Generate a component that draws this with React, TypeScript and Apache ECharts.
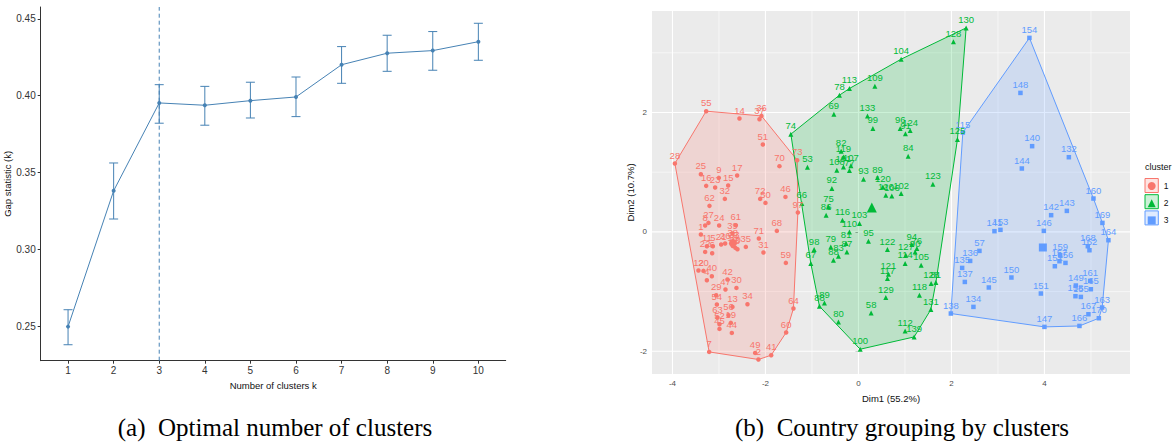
import React, { useEffect, useRef } from "react";
import * as echarts from "echarts";

// ---------- Panel (a): gap statistic ----------
const clusterK = [1, 2, 3, 4, 5, 6, 7, 8, 9, 10];
const gapValues = [0.2496, 0.3381, 0.3953, 0.3938, 0.3968, 0.3992, 0.4202, 0.4277, 0.4294, 0.4352];
const gapLower = [0.2378, 0.3197, 0.3821, 0.3808, 0.3855, 0.3864, 0.4081, 0.4159, 0.4166, 0.4231];
const gapUpper = [0.2606, 0.3562, 0.4072, 0.4061, 0.4088, 0.4122, 0.432, 0.4394, 0.4418, 0.4472];
const optimalK = 3;
const gapYTicks = [0.25, 0.3, 0.35, 0.4, 0.45];

// ---------- Panel (b): cluster plot (Dim1, Dim2, label) ----------
const cluster1: [number, number, string][] = [
  [-3.275, 2.022, "55"], [-2.559, 1.899, "14"], [-2.086, 1.943, "36"], [-2.129, 1.888, "37"],
  [-2.056, 1.464, "51"], [-3.948, 1.146, "28"], [-1.699, 1.101, "70"], [-1.318, 1.201, "73"],
  [-3.389, 0.966, "25"], [-3.002, 0.905, "9"], [-2.609, 0.945, "17"], [-3.275, 0.771, "16"],
  [-3.082, 0.744, "23"], [-2.802, 0.777, "15"], [-2.873, 0.553, "32"], [-2.114, 0.553, "72"],
  [-2.0, 0.486, "50"], [-1.57, 0.586, "46"], [-1.303, 0.325, "97"], [-3.204, 0.436, "62"],
  [-3.226, 0.151, "27"], [-3.297, 0.107, "8"], [-2.996, 0.107, "24"], [-2.637, 0.112, "61"],
  [-3.389, -0.044, "1"], [-2.71, -0.027, "39"], [-1.755, 0.017, "68"], [-2.142, -0.111, "71"],
  [-3.26, -0.24, "11"], [-3.131, -0.24, "5"], [-3.297, -0.335, "22"], [-3.146, -0.357, "6"],
  [-2.953, -0.211, "21"], [-2.867, -0.194, "26"], [-2.701, -0.156, "38"], [-2.673, -0.178, "33"],
  [-2.701, -0.235, "18"], [-2.645, -0.268, "10"], [-2.602, -0.29, "3"], [-2.422, -0.251, "35"],
  [-2.043, -0.345, "31"], [-1.561, -0.519, "59"], [-3.441, -0.647, "12"], [-3.333, -0.653, "20"],
  [-3.26, -0.809, "4"], [-3.153, -0.742, "40"], [-2.817, -0.797, "42"], [-2.86, -0.965, "47"],
  [-2.624, -0.938, "30"], [-3.06, -1.06, "29"], [-3.045, -1.216, "54"], [-2.71, -1.256, "13"],
  [-2.387, -1.211, "34"], [-3.032, -1.434, "63"], [-2.796, -1.395, "56"], [-2.744, -1.524, "19"],
  [-2.989, -1.546, "52"], [-2.989, -1.625, "45"], [-2.723, -1.692, "44"], [-1.398, -1.283, "64"],
  [-1.555, -1.685, "60"], [-3.211, -2.01, "7"], [-2.222, -2.027, "49"], [-2.151, -2.137, "2"],
  [-1.877, -2.065, "41"],
];
const cluster2: [number, number, string][] = [
  [2.316, 3.417, "130"], [2.043, 3.183, "128"], [0.918, 2.893, "104"], [-0.194, 2.402, "113"],
  [0.353, 2.441, "109"], [-0.409, 2.29, "78"], [-0.529, 1.972, "69"], [0.194, 1.943, "133"],
  [0.31, 1.732, "99"], [0.897, 1.732, "96"], [1.011, 1.642, "91"], [1.112, 1.698, "124"],
  [-1.454, 1.637, "74"], [2.129, 1.548, "125"], [1.069, 1.268, "84"], [-0.372, 1.352, "82"],
  [-0.323, 1.256, "119"], [-1.097, 1.084, "53"], [-0.465, 1.034, "108"], [-0.323, 1.089, "101"],
  [-0.163, 1.106, "107"], [-0.194, 1.028, "77"], [0.108, 0.883, "93"], [0.409, 0.911, "89"],
  [0.525, 0.754, "120"], [1.6, 0.799, "123"], [-0.572, 0.727, "92"], [0.589, 0.615, "126"],
  [0.718, 0.603, "106"], [0.918, 0.643, "102"], [-1.217, 0.476, "66"], [-0.645, 0.419, "75"],
  [-0.695, 0.28, "86"], [-0.344, 0.196, "116"], [0.022, 0.141, "103"], [-0.194, 0.0, "110"],
  [-0.265, -0.194, "81"], [0.215, -0.156, "95"], [-0.953, -0.295, "98"], [-0.594, -0.251, "79"],
  [-0.43, -0.407, "83"], [-0.249, -0.335, "87"], [-0.538, -0.474, "88"], [-1.024, -0.529, "67"],
  [0.624, -0.295, "122"], [1.148, -0.211, "94"], [1.256, -0.278, "76"], [1.219, -0.335, "90"],
  [1.019, -0.39, "127"], [1.004, -0.529, "114"], [1.348, -0.558, "105"], [0.645, -0.709, "121"],
  [0.624, -0.781, "117"], [1.563, -0.864, "128"], [1.665, -0.848, "81"], [1.312, -1.06, "118"],
  [0.589, -1.099, "129"], [1.557, -1.3, "131"], [-0.839, -1.245, "88"], [-0.731, -1.189, "89"],
  [-0.43, -1.508, "80"], [0.273, -1.357, "58"], [1.004, -1.658, "112"], [1.198, -1.759, "139"],
  [0.037, -1.965, "100"],
];
const cluster3: [number, number, string][] = [
  [3.677, 3.25, "154"], [3.484, 2.328, "148"], [2.245, 1.665, "115"], [3.735, 1.436, "140"],
  [4.525, 1.251, "132"], [3.514, 1.062, "144"], [5.054, 0.559, "160"], [4.144, 0.28, "142"],
  [4.482, 0.352, "143"], [5.247, 0.151, "169"], [5.376, -0.139, "164"], [2.925, 0.012, "141"],
  [3.054, 0.034, "153"], [3.987, 0.017, "146"], [4.933, -0.24, "168"], [4.968, -0.307, "162"],
  [4.338, -0.39, "159"], [4.323, -0.491, "157"], [4.452, -0.519, "156"], [4.224, -0.575, "152"],
  [2.602, -0.318, "57"], [2.402, -0.486, "136"], [2.23, -0.603, "135"], [2.288, -0.838, "137"],
  [3.29, -0.764, "150"], [2.804, -0.931, "145"], [3.923, -1.032, "151"], [4.675, -0.898, "149"],
  [4.983, -0.821, "161"], [4.998, -0.96, "165"], [4.667, -1.077, "158"], [4.783, -1.089, "155"],
  [2.473, -1.256, "134"], [1.987, -1.367, "138"], [5.241, -1.266, "163"], [4.946, -1.379, "167"],
  [5.17, -1.446, "170"], [4.753, -1.575, "166"], [4.0, -1.591, "147"],
];
const clusterNames = ["1", "2", "3"];
const clusterCenters: [number, number][] = [[-2.7, -0.19], [0.288, 0.392], [3.966, -0.261]];
const dimXTicks = [-4, -2, 0, 2, 4];
const dimYTicks = [-2, 0, 2];
const dimXMinorGrid = [-3, -1, 1, 3, 5];
const dimYMinorGrid = [-1, 1, 3];
const DIM_X = [-4.44, 5.84];
const DIM_Y = [-2.38, 3.7];

const SANS = "'Liberation Sans', Arial, sans-serif";
const SERIF = "'Liberation Serif', 'Times New Roman', serif";
const STEEL = "#4682B4";
const COLORS = ["#F8766D", "#00BA38", "#619CFF"];
const SYMBOLS = ["circle", "triangle", "rect"];

function rgba(hex: string, a: number) {
  const r = parseInt(hex.slice(1, 3), 16);
  const g = parseInt(hex.slice(3, 5), 16);
  const b = parseInt(hex.slice(5, 7), 16);
  return `rgba(${r},${g},${b},${a})`;
}

function convexHull(pts: number[][]): number[][] {
  const p = pts.map((q) => [q[0], q[1]]).sort((a, b) => a[0] - b[0] || a[1] - b[1]);
  const cross = (o: number[], a: number[], b: number[]) =>
    (a[0] - o[0]) * (b[1] - o[1]) - (a[1] - o[1]) * (b[0] - o[0]);
  const lower: number[][] = [];
  for (const q of p) {
    while (lower.length >= 2 && cross(lower[lower.length - 2], lower[lower.length - 1], q) <= 0) lower.pop();
    lower.push(q);
  }
  const upper: number[][] = [];
  for (let i = p.length - 1; i >= 0; i--) {
    const q = p[i];
    while (upper.length >= 2 && cross(upper[upper.length - 2], upper[upper.length - 1], q) <= 0) upper.pop();
    upper.push(q);
  }
  upper.pop();
  lower.pop();
  return lower.concat(upper);
}

export default function App() {
  const ref = useRef<HTMLDivElement>(null);
  useEffect(() => {
    if (!ref.current) return;
    const chart = echarts.init(ref.current, null, { renderer: "svg" });
    const clusters = [cluster1, cluster2, cluster3];

    const hullSeries = clusters.map((pts, ci) => {
      const h = convexHull(pts);
      return {
        type: "custom",
        xAxisIndex: 1,
        yAxisIndex: 1,
        silent: true,
        z: 2 + ci * 0.1,
        data: [[h[0][0], h[0][1]]],
        renderItem: (_p: any, api: any) => ({
          type: "polygon",
          shape: { points: h.map((q) => api.coord(q)) },
          style: { fill: rgba(COLORS[ci], 0.2), stroke: COLORS[ci], lineWidth: 1 },
        }),
      };
    });

    const scatterSeries = clusters.map((pts, ci) => ({
      type: "scatter",
      name: clusterNames[ci],
      xAxisIndex: 1,
      yAxisIndex: 1,
      z: 3,
      symbol: SYMBOLS[ci],
      symbolSize: ci === 1 ? 5 : 4.5,
      itemStyle: { color: COLORS[ci], opacity: 1 },
      data: pts.map((p) => [p[0], p[1], p[2]]),
      label: {
        show: true,
        position: "top",
        distance: 1,
        formatter: (p: any) => p.data[2],
        color: COLORS[ci],
        fontSize: 9.5,
        fontFamily: SANS,
      },
      emphasis: { disabled: true },
    }));

    const centerSeries = {
      type: "custom",
      xAxisIndex: 1,
      yAxisIndex: 1,
      z: 4,
      silent: true,
      data: clusterCenters.map((c, i) => [c[0], c[1], i]),
      renderItem: (_p: any, api: any) => {
        const pt = api.coord([api.value(0), api.value(1)]);
        const i = api.value(2);
        const s = 5;
        if (i === 0) return { type: "circle", shape: { cx: pt[0], cy: pt[1], r: 4 }, style: { fill: COLORS[0] } };
        if (i === 1)
          return {
            type: "polygon",
            shape: { points: [[pt[0], pt[1] - s - 1], [pt[0] - s, pt[1] + s - 1], [pt[0] + s, pt[1] + s - 1]] },
            style: { fill: COLORS[1] },
          };
        return { type: "rect", shape: { x: pt[0] - 4, y: pt[1] - 4, width: 8, height: 8 }, style: { fill: COLORS[2] } };
      },
    };

    const xGridSeries = {
      type: "custom",
      xAxisIndex: 1,
      yAxisIndex: 1,
      z: 1,
      silent: true,
      data: [...dimXTicks.map((v) => [v, 1]), ...dimXMinorGrid.map((v) => [v, 0])],
      renderItem: (_p: any, api: any) => {
        const v = api.value(0);
        const major = api.value(1) === 1;
        const a = api.coord([v, DIM_Y[0]]);
        const b = api.coord([v, DIM_Y[1]]);
        return {
          type: "line",
          shape: { x1: a[0], y1: a[1], x2: b[0], y2: b[1] },
          style: { stroke: "#ffffff", lineWidth: major ? 1.1 : 0.55 },
        };
      },
    };
    const yGridSeries = {
      type: "custom",
      xAxisIndex: 1,
      yAxisIndex: 1,
      z: 1,
      silent: true,
      data: [...dimYTicks.map((v) => [0, v, 1]), ...dimYMinorGrid.map((v) => [0, v, 0])],
      renderItem: (_p: any, api: any) => {
        const v = api.value(1);
        const major = api.value(2) === 1;
        const a = api.coord([DIM_X[0], v]);
        const b = api.coord([DIM_X[1], v]);
        return {
          type: "line",
          shape: { x1: a[0], y1: a[1], x2: b[0], y2: b[1] },
          style: { stroke: "#ffffff", lineWidth: major ? 1.1 : 0.55 },
        };
      },
    };

    const errorBarSeries = {
      type: "custom",
      xAxisIndex: 0,
      yAxisIndex: 0,
      z: 2,
      silent: true,
      data: clusterK.map((k, i) => [k, gapLower[i], gapUpper[i]]),
      renderItem: (_p: any, api: any) => {
        const x = api.value(0);
        const lo = api.coord([x, api.value(1)]);
        const hi = api.coord([x, api.value(2)]);
        const hw = 4.5;
        const st = { stroke: STEEL, lineWidth: 1 };
        return {
          type: "group",
          children: [
            { type: "line", shape: { x1: lo[0], y1: lo[1], x2: hi[0], y2: hi[1] }, style: st },
            { type: "line", shape: { x1: lo[0] - hw, y1: lo[1], x2: lo[0] + hw, y2: lo[1] }, style: st },
            { type: "line", shape: { x1: hi[0] - hw, y1: hi[1], x2: hi[0] + hw, y2: hi[1] }, style: st },
          ],
        };
      },
    };

    // dashed vertical marker at the optimal k, drawn through the axis scales
    const optimalLineSeries = {
      type: "custom",
      xAxisIndex: 0,
      yAxisIndex: 0,
      z: 1,
      silent: true,
      data: [[optimalK, 0.2274, 0.4578]],
      renderItem: (_p: any, api: any) => {
        const a = api.coord([api.value(0), api.value(1)]);
        const b = api.coord([api.value(0), api.value(2)]);
        return {
          type: "line",
          shape: { x1: a[0], y1: a[1], x2: b[0], y2: b[1] },
          style: { stroke: STEEL, lineWidth: 1, lineDash: [4, 3] },
        };
      },
    };

    const legendBoxes = [0, 1, 2].map((i) => ({
      type: "rect",
      z: 0,
      shape: { x: 1145, y: 178.5 + i * 16.2, width: 13.3, height: 14 },
      style: { fill: rgba(COLORS[i], 0.2), stroke: COLORS[i], lineWidth: 1 },
    }));

    const option: any = {
      animation: false,
      backgroundColor: "#ffffff",
      grid: [
        { left: 40.7, top: 7, width: 465, height: 353.7, containLabel: false },
        {
          left: 652, top: 11, width: 478, height: 363, containLabel: false,
          show: true, backgroundColor: "#EBEBEB", borderWidth: 0,
        },
      ],
      xAxis: [
        {
          type: "value", gridIndex: 0, min: 0.4, max: 10.6,
          axisLine: { show: true, onZero: false, lineStyle: { color: "#333333", width: 1 } },
          axisTick: { show: true, customValues: clusterK, length: 3, lineStyle: { color: "#333333" } },
          axisLabel: { customValues: clusterK, color: "#333333", fontSize: 10, fontFamily: SANS, margin: 5 },
          splitLine: { show: false },
          name: "Number of clusters k", nameLocation: "middle", nameGap: 20,
          nameTextStyle: { fontSize: 9.5, color: "#111111", fontFamily: SANS },
        },
        {
          type: "value", gridIndex: 1, min: DIM_X[0], max: DIM_X[1],
          axisLine: { show: false },
          axisTick: { show: true, customValues: dimXTicks, length: 3, lineStyle: { color: "#444444" } },
          axisLabel: { customValues: dimXTicks, color: "#4D4D4D", fontSize: 8, fontFamily: SANS, margin: 5 },
          splitLine: { show: false },
          name: "Dim1 (55.2%)", nameLocation: "middle", nameGap: 19,
          nameTextStyle: { fontSize: 9.5, color: "#111111", fontFamily: SANS },
        },
      ],
      yAxis: [
        {
          type: "value", gridIndex: 0, min: 0.2274, max: 0.4578,
          axisLine: { show: true, onZero: false, lineStyle: { color: "#333333", width: 1 } },
          axisTick: { show: true, customValues: gapYTicks, length: 3, lineStyle: { color: "#333333" } },
          axisLabel: {
            customValues: gapYTicks, color: "#333333", fontSize: 10, fontFamily: SANS, margin: 5,
            formatter: (v: number) => v.toFixed(2),
          },
          splitLine: { show: false },
          name: "Gap statistic (k)", nameLocation: "middle", nameGap: 25, nameRotate: 90,
          nameTextStyle: { fontSize: 9.5, color: "#111111", fontFamily: SANS },
        },
        {
          type: "value", gridIndex: 1, min: DIM_Y[0], max: DIM_Y[1],
          axisLine: { show: false },
          axisTick: { show: true, customValues: dimYTicks, length: 3, lineStyle: { color: "#444444" } },
          axisLabel: { customValues: dimYTicks, color: "#4D4D4D", fontSize: 8, fontFamily: SANS, margin: 5 },
          splitLine: { show: false },
          name: "Dim2 (10.7%)", nameLocation: "middle", nameGap: 11, nameRotate: 90,
          nameTextStyle: { fontSize: 9.5, color: "#111111", fontFamily: SANS },
        },
      ],
      legend: {
        orient: "vertical",
        left: 1147.7,
        top: 181.5,
        padding: 0,
        itemWidth: 8,
        itemHeight: 8,
        itemGap: 8.2,
        selectedMode: false,
        textStyle: { fontSize: 8.5, color: "#111111", fontFamily: SANS, padding: [0, 0, 0, 3] },
        data: clusterNames.map((n, i) => ({ name: n, icon: SYMBOLS[i] })),
      },
      graphic: [
        ...legendBoxes,
        {
          type: "text", left: 1145, top: 162,
          style: { text: "cluster", fontSize: 9, fill: "#111111", fontFamily: SANS },
        },
        {
          type: "text", x: 275, y: 427,
          style: {
            text: "(a)  Optimal number of clusters", fontSize: 25, fill: "#000000",
            fontFamily: SERIF, align: "center", verticalAlign: "middle",
          },
        },
        {
          type: "text", x: 902, y: 427,
          style: {
            text: "(b)  Country grouping by clusters", fontSize: 25, fill: "#000000",
            fontFamily: SERIF, align: "center", verticalAlign: "middle",
          },
        },
      ],
      series: [
        optimalLineSeries,
        {
          type: "line",
          xAxisIndex: 0,
          yAxisIndex: 0,
          z: 3,
          data: clusterK.map((k, i) => [k, gapValues[i]]),
          symbol: "circle",
          symbolSize: 4,
          showSymbol: true,
          lineStyle: { color: STEEL, width: 1 },
          itemStyle: { color: STEEL },
          emphasis: { disabled: true },
        },
        errorBarSeries,
        xGridSeries,
        yGridSeries,
        ...hullSeries,
        ...scatterSeries,
        centerSeries,
      ],
    };
    chart.setOption(option);
    return () => chart.dispose();
  }, []);

  return (
    <div
      ref={ref}
      style={{ position: "fixed", left: 0, top: 0, width: 1172, height: 443, background: "#fff" }}
    />
  );
}
